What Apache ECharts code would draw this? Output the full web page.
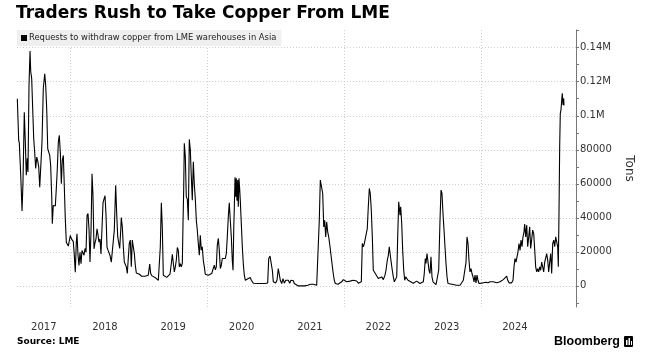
<!DOCTYPE html>
<html><head><meta charset="utf-8">
<script src="https://cdn.jsdelivr.net/npm/echarts@6/dist/echarts.min.js"></script>
<style>html,body{margin:0;padding:0;background:#fff}#c{width:651px;height:359px}</style>
</head><body><div id="c"></div>
<script>
const chartTitle = 'Traders Rush to Take Copper From LME';
const seriesName = 'Requests to withdraw copper from LME warehouses in Asia';
const sourceText = 'Source: LME';
const yAxisName = 'Tons';
const yearLabelPos = [2017.607, 2018.5, 2019.5, 2020.5, 2021.5, 2022.5, 2023.5, 2024.5];
const gridYears = [2018, 2020, 2022, 2024];
const yTicks = [0, 20000, 40000, 60000, 80000, 100000, 120000, 140000];
const yMinorTicks = [-10000, 10000, 30000, 50000, 70000, 90000, 110000, 130000, 150000];

// decimal years
const dates = [
2017.219,2017.239,2017.248,2017.269,2017.288,2017.302,2017.321,2017.336,2017.350,2017.365,2017.375,2017.390,2017.405,2017.415,2017.429,2017.444,2017.459,2017.473,2017.488,2017.503,2017.517,2017.532,2017.547,2017.561,2017.580,2017.599,2017.620,2017.634,2017.649,2017.664,2017.678,2017.693,2017.707,2017.722,2017.731,2017.745,2017.760,2017.775,2017.789,2017.804,2017.819,2017.833,2017.848,2017.863,2017.877,2017.892,2017.906,2017.921,2017.936,2017.950,2017.965,2017.980,2017.994,
2018.009,2018.023,2018.038,2018.053,2018.067,2018.082,2018.092,2018.107,2018.121,2018.136,2018.151,2018.165,2018.180,2018.195,2018.209,2018.224,2018.239,2018.253,2018.268,2018.282,2018.297,2018.312,2018.326,2018.341,2018.356,2018.370,2018.385,2018.399,2018.414,2018.429,2018.443,2018.458,2018.473,2018.487,2018.502,2018.517,2018.531,2018.546,2018.560,2018.575,2018.594,2018.623,2018.638,2018.658,2018.673,2018.688,2018.702,2018.717,2018.732,2018.740,2018.755,2018.770,2018.784,2018.799,2018.814,2018.828,2018.843,2018.857,2018.872,2018.887,2018.901,2018.916,2018.931,2018.945,2018.960,2018.980,2018.999,
2019.018,2019.039,2019.062,2019.087,2019.112,2019.135,2019.156,2019.170,2019.190,2019.209,2019.233,2019.258,2019.282,2019.296,2019.311,2019.326,2019.340,2019.355,2019.380,2019.405,2019.428,2019.453,2019.472,2019.487,2019.501,2019.516,2019.530,2019.545,2019.560,2019.574,2019.589,2019.604,2019.618,2019.633,2019.643,2019.653,2019.662,2019.677,2019.691,2019.706,2019.721,2019.735,2019.750,2019.765,2019.779,2019.794,2019.808,2019.823,2019.838,2019.852,2019.867,2019.882,2019.896,2019.911,2019.925,2019.940,2019.955,2019.969,2019.990,
2020.013,2020.038,2020.063,2020.086,2020.101,2020.116,2020.130,2020.145,2020.160,2020.174,2020.189,2020.203,2020.218,2020.233,2020.247,2020.262,2020.277,2020.291,2020.306,2020.320,2020.335,2020.350,2020.364,2020.375,2020.385,2020.394,2020.404,2020.414,2020.423,2020.433,2020.443,2020.452,2020.462,2020.473,2020.481,2020.496,2020.511,2020.525,2020.540,2020.555,2020.569,2020.584,2020.598,2020.613,2020.628,2020.642,2020.657,2020.672,2020.696,2020.745,2020.794,2020.843,2020.882,2020.897,2020.916,2020.935,2020.950,2020.964,2020.979,2020.999,
2021.018,2021.037,2021.052,2021.067,2021.087,2021.106,2021.125,2021.146,2021.165,2021.184,2021.204,2021.223,2021.242,2021.257,2021.271,2021.292,2021.330,2021.380,2021.428,2021.467,2021.487,2021.511,2021.530,2021.549,2021.574,2021.599,2021.623,2021.637,2021.652,2021.672,2021.687,2021.702,2021.716,2021.731,2021.745,2021.760,2021.775,2021.794,2021.819,2021.842,2021.857,2021.871,2021.911,2021.940,2021.965,2021.988,
2022.013,2022.038,2022.061,2022.086,2022.111,2022.135,2022.160,2022.184,2022.208,2022.233,2022.252,2022.266,2022.281,2022.296,2022.310,2022.325,2022.339,2022.354,2022.369,2022.383,2022.398,2022.413,2022.427,2022.442,2022.457,2022.477,2022.500,2022.525,2022.550,2022.574,2022.598,2022.613,2022.632,2022.647,2022.661,2022.676,2022.691,2022.705,2022.720,2022.735,2022.755,2022.770,2022.784,2022.799,2022.808,2022.818,2022.828,2022.843,2022.857,2022.872,2022.887,2022.901,2022.916,2022.935,2022.954,2022.974,2022.993,
2023.012,2023.037,2023.062,2023.086,2023.110,2023.135,2023.159,2023.173,2023.188,2023.198,2023.213,2023.228,2023.242,2023.257,2023.271,2023.286,2023.301,2023.320,2023.345,2023.364,2023.384,2023.403,2023.418,2023.432,2023.447,2023.462,2023.476,2023.491,2023.506,2023.520,2023.549,2023.598,2023.647,2023.696,2023.721,2023.744,2023.765,2023.784,2023.798,2023.813,2023.827,2023.842,2023.857,2023.871,2023.886,2023.901,2023.915,2023.930,2023.944,2023.959,2023.974,
2024.003,2024.037,2024.072,2024.105,2024.135,2024.160,2024.183,2024.208,2024.233,2024.256,2024.281,2024.306,2024.329,2024.354,2024.379,2024.394,2024.413,2024.432,2024.452,2024.471,2024.486,2024.500,2024.515,2024.530,2024.544,2024.559,2024.574,2024.588,2024.603,2024.617,2024.632,2024.642,2024.657,2024.672,2024.686,2024.701,2024.715,2024.730,2024.745,2024.759,2024.774,2024.789,2024.803,2024.818,2024.833,2024.847,2024.862,2024.876,2024.891,2024.906,2024.920,2024.935,2024.950,2024.964,2024.979,2024.993,
2025.008,2025.023,2025.037,2025.052,2025.067,2025.081,2025.096,2025.111,2025.125,2025.134,2025.144,2025.154,2025.163,2025.173,2025.184,2025.192,2025.203,2025.213,2025.217
];

// thousand tons
const kTons = [
110,85.5,84,65,44,61,102,84.5,65,75,67,118,138,126,122,104,86.5,78.6,69,75.7,73.6,70,58,57.5,84.5,116,124.7,118,104,80.6,81,76.7,70.8,53,36.5,47.3,46.3,47,57,68.8,84.5,88.5,78.6,60,73.8,76.7,59,39.4,25.7,25,23.4,23.4,29.6,
27.8,28,26,17.9,8,25.7,30.6,18,12,19.8,13,20.8,19.8,18,22,19.8,41.4,42.6,33.5,14,31.6,65.9,53,21.8,25.4,27.6,33.5,30,25.7,27.6,18.8,19.6,49,51,53,41.4,22.8,21,22,17.9,14,13.2,32.8,59.2,42.6,28.8,28,22,32.8,40.2,34.7,23,14,13.2,11.2,7.3,8,25,26.9,11.2,26.9,27.8,19,12.2,7.6,7.3,7,
6.3,5.7,5.7,5.7,5.7,6.3,12.8,7.3,5.9,5.3,5,3.9,3.3,3.7,23,48.8,34.7,6.3,5.3,5,5.3,6.9,13.2,18.6,19,8.2,11,15.1,22.6,21,11.2,13,11.2,13.2,36.7,56.3,83.8,75.9,52.4,51,38.6,86.1,79.8,64,50.4,73,60.2,51.2,38.6,32.8,25,18,29.8,21,23,15.1,11.2,6.9,6.3,
6.3,6.6,7.3,8,12.2,9.4,11,24,27.9,21,10.2,12,16.1,16.1,15.5,16.1,19,28.8,40.6,48.8,38.6,28.8,15.1,9.2,32.8,46.5,63.8,52.4,63.2,50,62.2,46.5,63.2,56.3,50.4,36.7,23,13.2,6.3,3.3,4.3,3.3,4.3,3.7,4.9,3.3,2.3,1.6,1.4,1.4,1.4,1.4,1.7,16.1,17.5,16.7,9.2,2.5,1.4,1.7,
3.3,10.2,9.2,3.3,1.4,4.3,1.6,3.3,2.3,3.3,1.6,3.3,4.3,3,1.4,0.4,0,0,0,0.4,1.4,1,1.7,1,1.4,0.4,1.4,38.6,62.2,61.3,54.3,34.7,38.6,28.8,37.6,31.8,28.8,23,14.5,7,3.3,1.4,1,1.4,2.4,3.7,
3.3,2.4,3.3,2.8,2.8,3.3,2.4,2.9,1.6,1.4,2.4,24.9,23,24.9,27.8,28.8,33.7,46.5,57.3,54.3,44.5,28.8,9.2,8.3,7.3,6.3,4.3,3.3,5.3,3.7,6.3,9.2,15.1,18,23,18,13.2,9.2,5.3,2.4,1.4,5.3,28.8,49.4,48.4,41.6,46.5,36.7,21,9.2,3.3,5.3,4.3,3.3,4.3,2.4,1.4,
1.6,1.4,2.8,2.4,1.4,1.6,2.4,7.3,16.1,13.2,19,18,9.2,7.3,17.1,5.3,2.4,1.4,0.8,1.4,9.2,38.6,56.3,54.3,42.6,32.8,23,13.2,5.3,1.4,1,0.8,0.4,0.4,0.8,3.3,2.4,14,28.8,24.9,15.1,8.2,10.2,7.3,5.3,2.4,6.3,1.8,6.3,3.3,1.4,
1.4,1.8,2.2,1.8,2.4,3.3,2.4,1.8,1.8,1.4,2.4,3.3,3.7,4.3,5.7,3.3,1.8,1.4,1.8,3.3,11.2,16.1,14,17.1,20,24.9,20.9,26.9,23,28.8,31.8,36.3,28.8,35.7,23,28.8,34.7,22,23,32.8,30.8,21,11.2,8.2,10.2,8.2,11.2,9.2,14,11.2,8.2,14,15.1,19,15.1,8.2,
14,19,7.3,24.9,26.9,23,28.8,29.8,23,11.2,42.6,81.8,101.4,103.4,109.2,113.2,106.3,110.2,106
];

const seriesData = dates.map((d, i) => [d, kTons[i] * 1000]);

const FONT = 'DejaVu Sans';
const chart = echarts.init(document.getElementById('c'), null, {renderer: 'canvas'});
chart.setOption({
  backgroundColor: '#fff',
  animation: false,
  title: {
    text: chartTitle, left: 16, top: 5, padding: 0,
    textStyle: {fontFamily: FONT, fontWeight: 'bold', fontSize: 17, color: '#000'}
  },
  legend: {
    data: [seriesName], left: 17, top: 30, padding: [4, 5, 4, 4],
    backgroundColor: '#efefef', icon: 'rect', itemWidth: 6, itemHeight: 6,
    textStyle: {fontFamily: FONT, fontSize: 8.4, color: '#222', padding: [0, 0, 0, -3]}
  },
  grid: {left: 17, right: 75, top: 30, bottom: 52, containLabel: false},
  xAxis: {
    type: 'value', min: 2017.2143, max: 2025.3928,
    axisLine: {show: false},
    axisTick: {show: false, customValues: gridYears},
    splitLine: {show: true, lineStyle: {color: '#cfcfcf', type: [1, 2], width: 1}},
    axisLabel: {
      customValues: yearLabelPos, formatter: v => String(Math.floor(v)),
      fontFamily: FONT, fontSize: 10, color: '#333', margin: 15
    }
  },
  yAxis: [{
    type: 'value', position: 'right', min: -12400, max: 150400,
    name: yAxisName, nameLocation: 'middle', nameRotate: -90, nameGap: 46,
    nameTextStyle: {fontFamily: FONT, fontSize: 12, color: '#333'},
    axisLine: {show: true, lineStyle: {color: '#777', width: 1}},
    axisTick: {show: true, customValues: yTicks, inside: false, length: 3, lineStyle: {color: '#777'}},
    splitLine: {show: true, lineStyle: {color: '#cfcfcf', type: [1, 2], width: 1}},
    axisLabel: {
      customValues: yTicks, margin: 4,
      formatter: v => v >= 100000 ? (v / 1000000) + 'M' : String(v),
      fontFamily: FONT, fontSize: 10, color: '#333'
    }
  }, {
    type: 'value', position: 'right', min: -12400, max: 150400,
    axisLine: {show: false},
    axisTick: {show: true, customValues: yMinorTicks, length: 3, lineStyle: {color: '#777'}},
    splitLine: {show: false},
    axisLabel: {show: false}
  }],
  series: [{
    name: seriesName, type: 'line', data: seriesData, showSymbol: false, symbol: 'none',
    lineStyle: {color: '#000', width: 1.1}, itemStyle: {color: '#000'}, z: 5
  }],
  graphic: [
    {type: 'text', left: 17, top: 337, style: {text: sourceText, fontFamily: FONT, fontWeight: 'bold', fontSize: 9, fill: '#000'}},
    {type: 'text', right: 31, top: 335, style: {text: 'Bloomberg', fontFamily: 'Liberation Sans', fontWeight: 'bold', fontSize: 12.5, fill: '#000'}},
    {type: 'group', right: 18, top: 336, children: [
      {type: 'rect', shape: {x: 0, y: 0, width: 9, height: 11, r: 1}, style: {fill: '#000'}},
      {type: 'rect', shape: {x: 2, y: 4, width: 1.5, height: 5}, style: {fill: '#fff'}},
      {type: 'rect', shape: {x: 4.5, y: 2, width: 1.5, height: 7}, style: {fill: '#fff'}},
      {type: 'rect', shape: {x: 7, y: 5, width: 1, height: 4}, style: {fill: '#fff'}}
    ]}
  ]
});
</script>
</body></html>
